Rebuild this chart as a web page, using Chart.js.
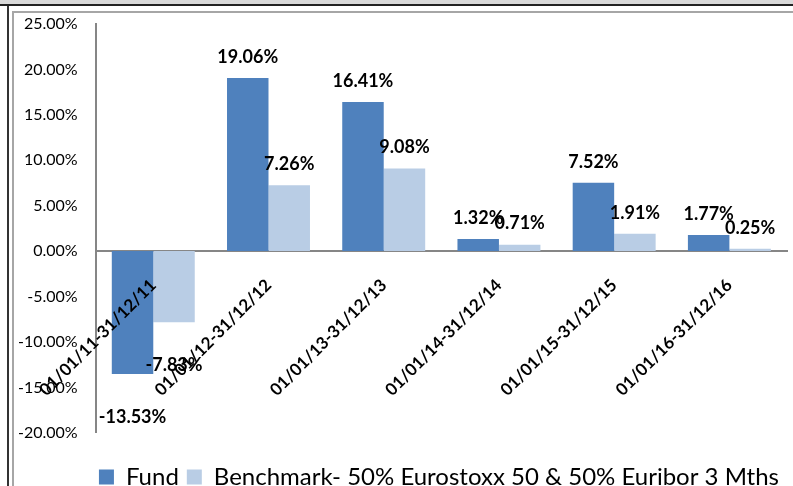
<!DOCTYPE html>
<html>
<head>
<meta charset="utf-8">
<script src="https://cdn.jsdelivr.net/npm/chart.js@4.4.0/dist/chart.umd.min.js"></script>
<style>
  body { margin: 0; background: #fff; overflow: hidden; width: 793px; height: 486px; position: relative; }
  .band { position: absolute; left: 0; top: 0; width: 793px; height: 4px; background: #d9d9d9; }
  .topline { position: absolute; left: 0; top: 4px; width: 793px; height: 2px; background: #222; }
  .leftline { position: absolute; left: 7px; top: 6px; width: 2px; height: 480px; background: #333; }
  .innertop { position: absolute; left: 12px; top: 11px; width: 781px; height: 2px; background: #a6a6a6; }
  .innerleft { position: absolute; left: 12px; top: 11px; width: 2px; height: 475px; background: #a6a6a6; }
  #wrap { position: absolute; left: 0; top: 0; width: 793px; height: 503px; }
</style>
</head>
<body>
<div class="band"></div>
<div class="topline"></div>
<div class="leftline"></div>
<div class="innertop"></div>
<div class="innerleft"></div>
<div id="wrap"><canvas id="myChart"></canvas></div>
<script>
let periods = ['01/01/11-31/12/11', '01/01/12-31/12/12', '01/01/13-31/12/13',
               '01/01/14-31/12/14', '01/01/15-31/12/15', '01/01/16-31/12/16'];
let fund = [-13.53, 19.06, 16.41, 1.32, 7.52, 1.77];
let benchmark = [-7.83, 7.26, 9.08, 0.71, 1.91, 0.25];
let seriesNames = ['Fund', 'Benchmark- 50% Eurostoxx 50 & 50% Euribor 3 Mths'];
let yMin = -20;
let yMax = 25;
let yStep = 5;

let fontName = 'Lato, "Open Sans", sans-serif';

// value labels above (or under) each bar
let barLabels = {
  id: 'barLabels',
  afterDatasetsDraw(chart) {
    let ctx = chart.ctx;
    ctx.save();
    ctx.font = 'bold 18px ' + fontName;
    ctx.fillStyle = '#000';
    ctx.textAlign = 'center';
    ctx.textBaseline = 'middle';
    chart.data.datasets.forEach(function(ds, i) {
      let meta = chart.getDatasetMeta(i);
      meta.data.forEach(function(bar, j) {
        let v = ds.data[j];
        let txt = v.toFixed(2) + '%';
        if (v >= 0) {
          ctx.fillText(txt, bar.x, bar.y - 21);
        } else {
          ctx.fillText(txt, bar.x, bar.y + 43);
        }
      });
    });
    ctx.restore();
  }
};

function makeChart() {
  let ctx = document.getElementById('myChart');
  let myChart = new Chart(ctx, {
    type: 'bar',
    data: {
      labels: periods,
      datasets: [
        { label: seriesNames[0], data: fund, backgroundColor: '#4f81bd' },
        { label: seriesNames[1], data: benchmark, backgroundColor: '#b9cde5' }
      ]
    },
    options: {
      responsive: true,
      maintainAspectRatio: false,
      animation: false,
      categoryPercentage: 0.72,
      barPercentage: 1.0,
      layout: { padding: { left: 0, right: 6, top: 24, bottom: 4 } },
      plugins: {
        tooltip: { enabled: false },
        legend: {
          position: 'bottom',
          align: 'end',
          // empty title only used as a spacer above the legend items
          title: { display: true, text: ' ', font: { size: 1 }, padding: { top: 10, bottom: 13 } },
          labels: {
            boxWidth: 15,
            boxHeight: 15,
            padding: 8,
            color: '#000',
            font: { family: fontName, size: 24 }
          }
        }
      },
      scales: {
        x: {
          position: { y: 0 },
          grid: { display: false },
          border: { color: '#868686', width: 2 },
          afterFit: function(scale) {
            scale.paddingLeft = 0;
            scale.paddingRight = 0;
          },
          ticks: {
            z: 1,
            color: '#000',
            minRotation: 45,
            maxRotation: 45,
            padding: 16,
            font: { family: fontName, size: 17, weight: 'bold' }
          }
        },
        y: {
          min: yMin,
          max: yMax,
          grid: { display: false, drawTicks: false },
          border: { color: '#868686', width: 2 },
          afterFit: function(scale) {
            scale.paddingTop = 0;
            scale.paddingBottom = 0;
          },
          ticks: {
            stepSize: yStep,
            color: '#000',
            padding: 18,
            font: { family: fontName, size: 16 },
            callback: function(v) { return v.toFixed(2) + '%'; }
          }
        }
      }
    },
    plugins: [barLabels]
  });
}

makeChart();
</script>
</body>
</html>
